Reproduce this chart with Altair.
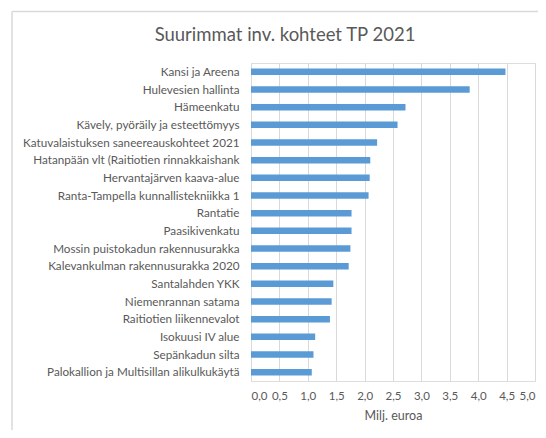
import altair as alt
import pandas as pd

categories = [
    "Kansi ja Areena",
    "Hulevesien hallinta",
    "Hämeenkatu",
    "Kävely, pyöräily ja esteettömyys",
    "Katuvalaistuksen saneereauskohteet 2021",
    "Hatanpään vlt (Raitiotien rinnakkaishank",
    "Hervantajärven kaava-alue",
    "Ranta-Tampella kunnallistekniikka 1",
    "Rantatie",
    "Paasikivenkatu",
    "Mossin puistokadun rakennusurakka",
    "Kalevankulman rakennusurakka 2020",
    "Santalahden YKK",
    "Niemenrannan satama",
    "Raitiotien liikennevalot",
    "Isokuusi IV alue",
    "Sepänkadun silta",
    "Palokallion ja Multisillan alikulkukäytä",
]
values = [4.48, 3.85, 2.72, 2.58, 2.22, 2.10, 2.09, 2.07, 1.77, 1.77,
          1.75, 1.72, 1.45, 1.42, 1.39, 1.13, 1.10, 1.07]
tick_values = [0, 0.5, 1, 1.5, 2, 2.5, 3, 3.5, 4, 4.5, 5]

title_text = "Suurimmat inv. kohteet TP 2021"
x_title = "Milj. euroa"

df = pd.DataFrame({"kohde": categories, "arvo": values})

FONT = "Lato"
TXT = "#595959"
GRID = "#d9d9d9"

bars = alt.Chart(df).mark_bar(color="#5B9BD5", size=6.5).encode(
    x=alt.X(
        "arvo:Q",
        scale=alt.Scale(domain=[0, 5], nice=False),
        axis=alt.Axis(
            values=tick_values,
            labelExpr="replace(format(datum.value, '.1f'), '.', ',')",
            title=x_title,
            grid=True,
            gridColor=GRID,
            domain=False,
            ticks=False,
            labelPadding=9,
            labelFontSize=11.5,
            labelColor=TXT,
            labelFont=FONT,
            titleFont=FONT,
            titleFontSize=12.5,
            titleFontWeight="normal",
            titleColor=TXT,
            titlePadding=8,
        ),
    ),
    y=alt.Y(
        "kohde:N",
        sort=categories,
        axis=alt.Axis(
            title=None,
            domain=False,
            ticks=False,
            grid=False,
            labelPadding=12,
            labelFontSize=11.7,
            labelColor=TXT,
            labelFont=FONT,
            labelLimit=400,
        ),
    ),
)

one_row = pd.DataFrame({"t": [title_text]})
top_line = alt.Chart(one_row).mark_rule(color=GRID, strokeWidth=1.5).encode(
    x=alt.value(-239), x2=alt.value(300), y=alt.value(-51.5)
)
left_line = alt.Chart(one_row).mark_rule(color=GRID, strokeWidth=1.5).encode(
    x=alt.value(-239), y=alt.value(-51.5), y2=alt.value(380)
)
title_mark = alt.Chart(one_row).mark_text(
    font=FONT, fontSize=18.5, color=TXT, align="center", baseline="alphabetic"
).encode(
    text="t:N", x=alt.value(34), y=alt.value(-22.5)
)

chart = (
    alt.layer(top_line, left_line, title_mark, bars)
    .properties(
        width=284,
        height=318,
        autosize=alt.AutoSizeParams(type="none"),
        padding={"left": 243, "top": 55, "right": 3, "bottom": 49},
    )
    .configure_view(stroke=None)
    .configure(background="white")
)

chart.save("out.html", embed_options={"renderer": "svg", "actions": False})
